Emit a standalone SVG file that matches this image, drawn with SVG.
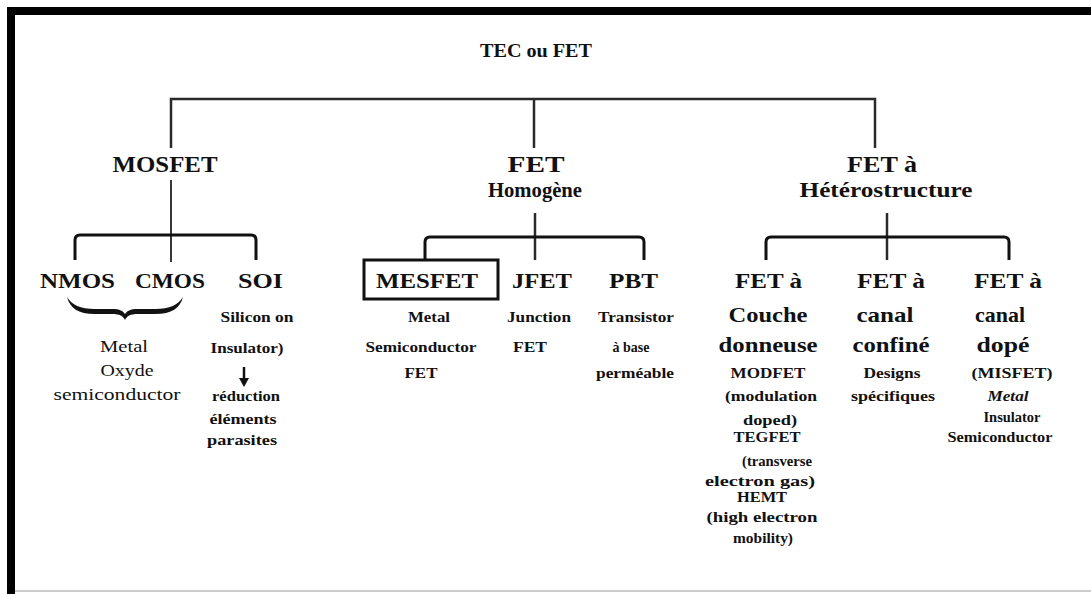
<svg xmlns="http://www.w3.org/2000/svg" width="1091" height="594" viewBox="0 0 1091 594">
<style>
text{font-family:"Liberation Serif","Times New Roman",serif;fill:#111;text-anchor:middle}
.t{font-size:18px;font-weight:bold}
.l2{font-size:23px;font-weight:bold}
.l2b{font-size:20px;font-weight:bold}
.l3{font-size:22px;font-weight:bold}
.s{font-size:14px;font-weight:bold}
.r{font-size:16px;font-weight:normal}
.it{font-style:italic}
.c1{fill:none;stroke:#2a2a2a;stroke-width:2.5}
.c2{fill:none;stroke:#111;stroke-width:3;stroke-linejoin:round}
.c3{fill:none;stroke:#222;stroke-width:1.8}
</style>
<rect x="0" y="0" width="1091" height="594" fill="#fff"/>
<g id="frame">
<rect x="7" y="7" width="1084" height="8" fill="#000"/>
<rect x="7" y="7" width="8" height="587" fill="#000"/>
<line x1="15" y1="591" x2="1091" y2="591" stroke="#999" stroke-width="1"/>
</g>
<g id="connectors">
<path class="c1" d="M171,148 V99 H875 V148"/>
<path class="c1" d="M534,99 V148"/>
<path class="c3" d="M171,180 V262"/>
<path class="c2" d="M75,260 V240 Q75,235 80,235 H251 Q256,235 256,240 V260"/>
<path class="c1" d="M535,213 V260"/>
<path class="c2" d="M425,260 V242 Q425,237 430,237 H639 Q644,237 644,242 V260"/>
<path class="c1" d="M887,213 V260"/>
<path class="c2" d="M766,260 V242 Q766,237 771,237 H1004 Q1009,237 1009,242 V260"/>
<path fill="#111" d="M67,297 C70,308 78,314 95,314 L112,314 C120,314 123,316 125,320 C127,316 130,314 138,314 L155,314 C172,314 180,308 183,297 C178,305 170,309 155,309 L138,309 C130,309 127,311 125,314 C123,311 120,309 112,309 L95,309 C80,309 72,305 67,297 Z"/>
<path stroke="#111" stroke-width="2.5" d="M244,367 V379"/>
<path fill="#111" d="M239,378 L249,378 L244,387 Z"/>
</g>
<g id="root"><text class="t" x="536" y="57" textLength="112" lengthAdjust="spacingAndGlyphs">TEC ou FET</text></g>
<g id="mosfet"><text class="l2" x="165" y="172" textLength="105" lengthAdjust="spacingAndGlyphs">MOSFET</text></g>
<g id="fet-homogene">
<text class="l2" x="536" y="172" textLength="57" lengthAdjust="spacingAndGlyphs">FET</text>
<text class="l2b" x="535" y="197" textLength="94" lengthAdjust="spacingAndGlyphs">Homogène</text>
</g>
<g id="fet-hetero">
<text class="l2" x="882" y="172" textLength="70" lengthAdjust="spacingAndGlyphs">FET à</text>
<text class="l2b" x="886" y="197" textLength="173" lengthAdjust="spacingAndGlyphs">Hétérostructure</text>
</g>
<g id="nmos"><text class="l3" x="77.5" y="288" textLength="75" lengthAdjust="spacingAndGlyphs">NMOS</text></g>
<g id="cmos"><text class="l3" x="170" y="288" textLength="70" lengthAdjust="spacingAndGlyphs">CMOS</text></g>
<g id="mos-desc">
<text class="r" x="124" y="352" textLength="48" lengthAdjust="spacingAndGlyphs">Metal</text>
<text class="r" x="127" y="376" textLength="53" lengthAdjust="spacingAndGlyphs">Oxyde</text>
<text class="r" x="117" y="400" textLength="127" lengthAdjust="spacingAndGlyphs">semiconductor</text>
</g>
<g id="soi">
<text class="l3" x="260.5" y="288" textLength="45" lengthAdjust="spacingAndGlyphs">SOI</text>
<text class="s" x="257" y="322" textLength="73" lengthAdjust="spacingAndGlyphs">Silicon on</text>
<text class="s" x="247" y="353" textLength="73" lengthAdjust="spacingAndGlyphs">Insulator)</text>
<text class="s" x="246" y="401" textLength="68" lengthAdjust="spacingAndGlyphs">réduction</text>
<text class="s" x="243" y="424" textLength="67" lengthAdjust="spacingAndGlyphs">éléments</text>
<text class="s" x="242" y="445" textLength="70" lengthAdjust="spacingAndGlyphs">parasites</text>
</g>
<g id="mesfet">
<rect x="364" y="260" width="134" height="39" fill="none" stroke="#111" stroke-width="3"/>
<text class="l3" x="427" y="288" textLength="102" lengthAdjust="spacingAndGlyphs">MESFET</text>
<text class="s" x="429" y="322" textLength="42" lengthAdjust="spacingAndGlyphs">Metal</text>
<text class="s" x="421" y="352" textLength="111" lengthAdjust="spacingAndGlyphs">Semiconductor</text>
<text class="s" x="421" y="378" textLength="33" lengthAdjust="spacingAndGlyphs">FET</text>
</g>
<g id="jfet">
<text class="l3" x="542" y="288" textLength="60" lengthAdjust="spacingAndGlyphs">JFET</text>
<text class="s" x="539" y="322" textLength="64" lengthAdjust="spacingAndGlyphs">Junction</text>
<text class="s" x="530" y="352" textLength="34" lengthAdjust="spacingAndGlyphs">FET</text>
</g>
<g id="pbt">
<text class="l3" x="633.5" y="288" textLength="49" lengthAdjust="spacingAndGlyphs">PBT</text>
<text class="s" x="636" y="322" textLength="76" lengthAdjust="spacingAndGlyphs">Transistor</text>
<text class="s" x="631" y="352" textLength="37" lengthAdjust="spacingAndGlyphs">à base</text>
<text class="s" x="635" y="378" textLength="78" lengthAdjust="spacingAndGlyphs">perméable</text>
</g>
<g id="couche-donneuse">
<text class="l3" x="768.5" y="288" textLength="67" lengthAdjust="spacingAndGlyphs">FET à</text>
<text class="l3" x="768" y="322" textLength="79" lengthAdjust="spacingAndGlyphs">Couche</text>
<text class="l3" x="768" y="352" textLength="99" lengthAdjust="spacingAndGlyphs">donneuse</text>
<text class="s" x="768" y="378" textLength="75" lengthAdjust="spacingAndGlyphs">MODFET</text>
<text class="s" x="771" y="401" textLength="92" lengthAdjust="spacingAndGlyphs">(modulation</text>
<text class="s" x="770" y="425" textLength="54" lengthAdjust="spacingAndGlyphs">doped)</text>
<text class="s" x="767" y="442" textLength="67" lengthAdjust="spacingAndGlyphs">TEGFET</text>
<text class="s" x="777" y="466" textLength="70" lengthAdjust="spacingAndGlyphs">(transverse</text>
<text class="s" x="760" y="486" textLength="110" lengthAdjust="spacingAndGlyphs">electron gas)</text>
<text class="s" x="762" y="502" textLength="50" lengthAdjust="spacingAndGlyphs">HEMT</text>
<text class="s" x="762" y="522" textLength="111" lengthAdjust="spacingAndGlyphs">(high electron</text>
<text class="s" x="763" y="543" textLength="60" lengthAdjust="spacingAndGlyphs">mobility)</text>
</g>
<g id="canal-confine">
<text class="l3" x="891" y="288" textLength="68" lengthAdjust="spacingAndGlyphs">FET à</text>
<text class="l3" x="885" y="322" textLength="57" lengthAdjust="spacingAndGlyphs">canal</text>
<text class="l3" x="891" y="352" textLength="77" lengthAdjust="spacingAndGlyphs">confiné</text>
<text class="s" x="892" y="378" textLength="57" lengthAdjust="spacingAndGlyphs">Designs</text>
<text class="s" x="893" y="401" textLength="84" lengthAdjust="spacingAndGlyphs">spécifiques</text>
</g>
<g id="canal-dope">
<text class="l3" x="1008" y="288" textLength="68" lengthAdjust="spacingAndGlyphs">FET à</text>
<text class="l3" x="1000" y="322" textLength="50" lengthAdjust="spacingAndGlyphs">canal</text>
<text class="l3" x="1003" y="352" textLength="53" lengthAdjust="spacingAndGlyphs">dopé</text>
<text class="s" x="1012" y="378" textLength="81" lengthAdjust="spacingAndGlyphs">(MISFET)</text>
<text class="s it" x="1008" y="401" textLength="41" lengthAdjust="spacingAndGlyphs">Metal</text>
<text class="s" x="1012" y="422" textLength="57" lengthAdjust="spacingAndGlyphs">Insulator</text>
<text class="s" x="1000" y="442" textLength="105" lengthAdjust="spacingAndGlyphs">Semiconductor</text>
</g>
</svg>
